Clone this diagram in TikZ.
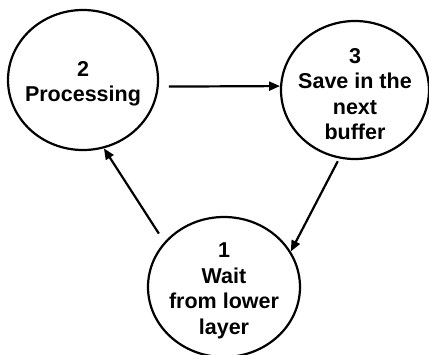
\documentclass[tikz,border=0pt]{standalone}
\usepackage{fontspec}
\setmainfont{Liberation Sans}
\usetikzlibrary{arrows.meta, shapes.geometric}

\begin{document}
\begin{tikzpicture}[
  x=1pt, y=-1pt,
  st/.style={draw, ellipse, line width=2.2pt, inner sep=0pt},
  txt/.style={align=center, yshift=-4pt,
              font=\fontsize{21.5}{25.5}\selectfont\bfseries},
  ar/.style={-{Triangle[length=11pt,width=9pt]}, line width=2.2pt},
]
\useasboundingbox (0,0) rectangle (429,354);

% ===================== states =====================
\node[st, minimum width=150pt, minimum height=140pt,
      label={[txt]center:2\\Processing}] (proc) at (83,80) {};
\node[st, minimum width=148pt, minimum height=138pt,
      label={[txt]center:3\\Save in the\\next\\buffer}] (save) at (355,90) {};
\node[st, minimum width=152pt, minimum height=140pt,
      label={[txt]center:1\\Wait\\from lower\\layer}] (wait) at (224,287) {};

% ===================== transitions =====================
\draw[ar, shorten <=10pt] (proc.-5.4) -- (save.177.7);
\draw[ar, shorten <=3pt]  (save.-103.8) -- (wait.28.5);
\draw[ar, shorten <=10pt] (wait.143.8) -- (proc.-73.5);
\end{tikzpicture}
\end{document}
